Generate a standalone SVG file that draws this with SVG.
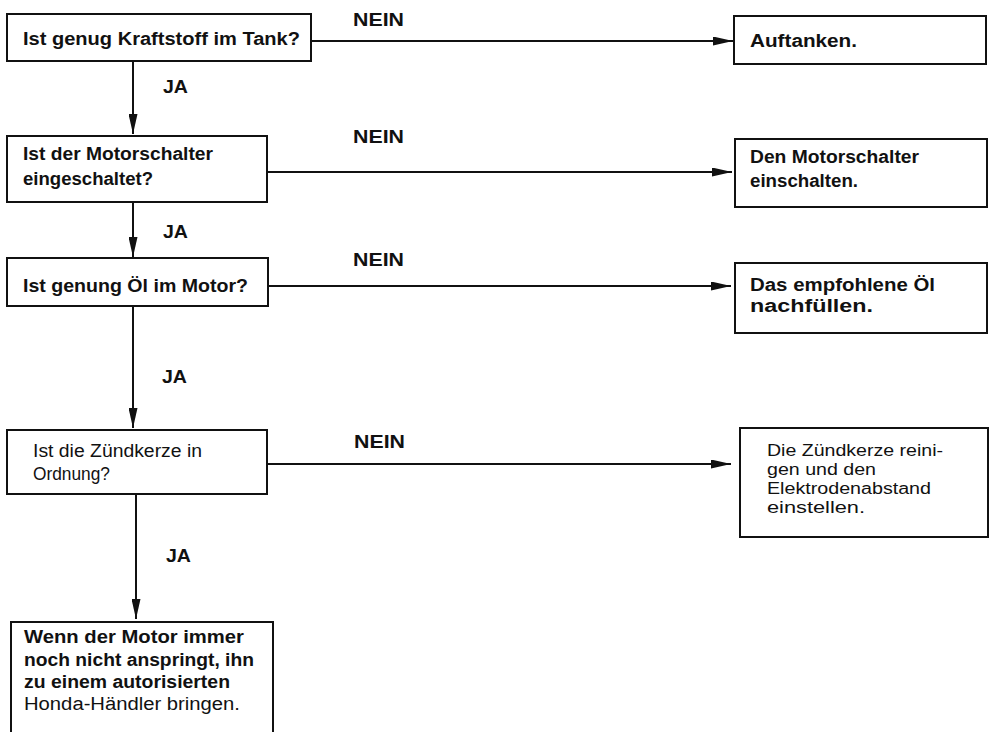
<svg xmlns="http://www.w3.org/2000/svg" width="992" height="732" viewBox="0 0 992 732">
  <style>
    .box { fill: #ffffff; stroke: #111111; stroke-width: 2; }
    .edge { fill: none; stroke: #111111; stroke-width: 2; marker-end: url(#arrow); }
    text { font-family: "Liberation Sans", Arial, Helvetica, sans-serif; font-size: 18px; fill: #111111; }
    .b { font-weight: bold; }
    .r { font-weight: normal; }
    .s { font-size: 16px; }
    .lbl { font-weight: bold; }
  </style>
  <defs>
    <marker id="arrow" viewBox="0 0 20 9" refX="20" refY="4.5" markerWidth="20" markerHeight="9" markerUnits="userSpaceOnUse" orient="auto">
      <path d="M0,0 L20,4.5 L0,9 Z" fill="#111111"/>
    </marker>
  </defs>

  <rect width="992" height="732" fill="#ffffff"/>

  <!-- connectors -->
  <g id="connectors">
    <line class="edge" x1="133" y1="61" x2="133" y2="134"/>
    <line class="edge" x1="133" y1="202" x2="133" y2="257"/>
    <line class="edge" x1="133" y1="306" x2="133" y2="428"/>
    <line class="edge" x1="136" y1="494" x2="136" y2="619"/>

    <line class="edge" x1="311" y1="41" x2="733" y2="41"/>
    <line class="edge" x1="267" y1="172" x2="732" y2="172"/>
    <line class="edge" x1="268" y1="286" x2="731" y2="286"/>
    <line class="edge" x1="267" y1="464" x2="731" y2="464"/>

    <text class="lbl" x="353" y="26" textLength="51" lengthAdjust="spacingAndGlyphs">NEIN</text>
    <text class="lbl" x="353" y="143" textLength="51" lengthAdjust="spacingAndGlyphs">NEIN</text>
    <text class="lbl" x="353" y="266" textLength="51" lengthAdjust="spacingAndGlyphs">NEIN</text>
    <text class="lbl" x="354" y="448" textLength="51" lengthAdjust="spacingAndGlyphs">NEIN</text>

    <text class="lbl" x="163" y="93" textLength="25" lengthAdjust="spacingAndGlyphs">JA</text>
    <text class="lbl" x="163" y="238" textLength="25" lengthAdjust="spacingAndGlyphs">JA</text>
    <text class="lbl" x="162" y="383" textLength="25" lengthAdjust="spacingAndGlyphs">JA</text>
    <text class="lbl" x="166" y="562" textLength="25" lengthAdjust="spacingAndGlyphs">JA</text>
  </g>

  <!-- question: fuel -->
  <g id="q-fuel">
    <rect class="box" x="7" y="14" width="304" height="47"/>
    <text class="b" x="23" y="45" textLength="277" lengthAdjust="spacingAndGlyphs">Ist genug Kraftstoff im Tank?</text>
  </g>

  <!-- action: refuel -->
  <g id="a-fuel">
    <rect class="box" x="734" y="16" width="252" height="48"/>
    <text class="b" x="750" y="47" textLength="107" lengthAdjust="spacingAndGlyphs">Auftanken.</text>
  </g>

  <!-- question: engine switch -->
  <g id="q-switch">
    <rect class="box" x="7" y="136" width="260" height="66"/>
    <text class="b" x="23" y="160" textLength="190" lengthAdjust="spacingAndGlyphs">Ist der Motorschalter</text>
    <text class="b" x="23" y="185" textLength="130" lengthAdjust="spacingAndGlyphs">eingeschaltet?</text>
  </g>

  <!-- action: switch on -->
  <g id="a-switch">
    <rect class="box" x="735" y="139" width="252" height="68"/>
    <text class="b" x="750" y="163" textLength="169" lengthAdjust="spacingAndGlyphs">Den Motorschalter</text>
    <text class="b" x="750" y="187" textLength="108" lengthAdjust="spacingAndGlyphs">einschalten.</text>
  </g>

  <!-- question: oil -->
  <g id="q-oil">
    <rect class="box" x="7" y="258" width="261" height="48"/>
    <text class="b" x="23" y="292" textLength="225" lengthAdjust="spacingAndGlyphs">Ist genung Öl im Motor?</text>
  </g>

  <!-- action: top up oil -->
  <g id="a-oil">
    <rect class="box" x="735" y="263" width="252" height="70"/>
    <text class="b" x="750" y="291" textLength="185" lengthAdjust="spacingAndGlyphs">Das empfohlene Öl</text>
    <text class="b" x="750" y="312" textLength="123" lengthAdjust="spacingAndGlyphs">nachfüllen.</text>
  </g>

  <!-- question: spark plug -->
  <g id="q-plug">
    <rect class="box" x="7" y="430" width="260" height="64"/>
    <text class="r" x="33" y="457" textLength="169" lengthAdjust="spacingAndGlyphs">Ist die Zündkerze in</text>
    <text class="r" x="33" y="480" textLength="77" lengthAdjust="spacingAndGlyphs">Ordnung?</text>
  </g>

  <!-- action: clean plug -->
  <g id="a-plug">
    <rect class="box" x="740" y="428" width="248" height="109"/>
    <text class="r s" x="767" y="456" textLength="176" lengthAdjust="spacingAndGlyphs">Die Zündkerze reini-</text>
    <text class="r s" x="767" y="475" textLength="109" lengthAdjust="spacingAndGlyphs">gen und den</text>
    <text class="r s" x="767" y="494" textLength="164" lengthAdjust="spacingAndGlyphs">Elektrodenabstand</text>
    <text class="r s" x="767" y="513" textLength="98" lengthAdjust="spacingAndGlyphs">einstellen.</text>
  </g>

  <!-- final: dealer -->
  <g id="a-dealer">
    <rect class="box" x="11" y="622" width="262" height="130"/>
    <text class="b" x="24" y="643" textLength="220" lengthAdjust="spacingAndGlyphs">Wenn der Motor immer</text>
    <text class="b" x="24" y="666" textLength="230" lengthAdjust="spacingAndGlyphs">noch nicht anspringt, ihn</text>
    <text class="b" x="24" y="688" textLength="206" lengthAdjust="spacingAndGlyphs">zu einem autorisierten</text>
    <text class="r" x="24" y="710" textLength="216" lengthAdjust="spacingAndGlyphs">Honda-Händler bringen.</text>
  </g>
</svg>
